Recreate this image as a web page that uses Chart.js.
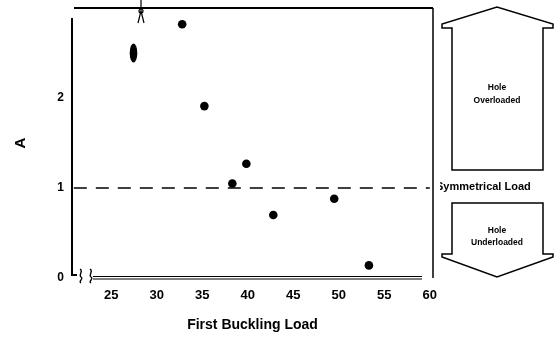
<!DOCTYPE html>
<html>
<head>
<meta charset="utf-8">
<script src="https://cdn.jsdelivr.net/npm/chart.js@4"></script>
<style>
html,body{margin:0;padding:0;background:#fff;}
#wrap{width:560px;height:342px;}
</style>
</head>
<body>
<div id="wrap"><canvas id="c" width="560" height="342"></canvas></div>
<script>
// ---- data ----
const bucklingLoad = [27.45, 32.8, 35.24, 39.85, 38.31, 42.81, 49.5, 53.31];
const aValues      = [2.50, 2.82, 1.91, 1.27, 1.05, 0.70, 0.88, 0.14];
const xTicks = [25, 30, 35, 40, 45, 50, 55, 60];
const yTicks = [0, 1, 2];
const symmetricalLevel = 1;
const xRange = [20.7, 60.35];
const yRange = [0, 3.0];

// first point is drawn as an elongated ellipse in the original
const ell = document.createElement('canvas');
ell.width = 9; ell.height = 20;
{
  const g = ell.getContext('2d');
  g.fillStyle = '#000';
  g.beginPath();
  g.ellipse(4.5, 10, 3.8, 9.5, 0, 0, Math.PI * 2);
  g.fill();
}
const pointStyles = bucklingLoad.map((_, i) => i === 0 ? ell : 'circle');

const points = bucklingLoad.map((x, i) => ({x: x, y: aValues[i]}));

const deco = {
  id: 'deco',
  afterDraw(chart) {
    const ctx = chart.ctx;
    const a = chart.chartArea;
    ctx.save();
    ctx.strokeStyle = '#000';
    ctx.fillStyle = '#000';
    ctx.lineCap = 'butt';
    // top line
    ctx.lineWidth = 2;
    ctx.beginPath(); ctx.moveTo(a.left + 2, a.top); ctx.lineTo(a.right, a.top); ctx.stroke();
    // right line
    ctx.lineWidth = 1.5;
    ctx.beginPath(); ctx.moveTo(a.right, a.top); ctx.lineTo(a.right, a.bottom); ctx.stroke();
    // left axis with bend at bottom
    ctx.lineWidth = 2;
    ctx.beginPath();
    ctx.moveTo(a.left, a.top + 10);
    ctx.lineTo(a.left, a.bottom - 3);
    ctx.lineTo(a.left + 5, a.bottom - 3);
    ctx.stroke();
    // break squiggles
    ctx.lineWidth = 1.3;
    [a.left + 9, a.left + 19].forEach(sx => {
      ctx.beginPath();
      ctx.moveTo(sx - 1, a.bottom - 9);
      ctx.bezierCurveTo(sx + 3, a.bottom - 7, sx - 3, a.bottom - 3, sx, a.bottom - 1);
      ctx.bezierCurveTo(sx + 3, a.bottom + 1, sx - 3, a.bottom + 3, sx, a.bottom + 5);
      ctx.stroke();
    });
    // bottom axis (double line)
    ctx.lineWidth = 1.2;
    ctx.beginPath(); ctx.moveTo(a.left + 21, a.bottom - 1.5); ctx.lineTo(a.right - 11, a.bottom - 1.5); ctx.stroke();
    ctx.beginPath(); ctx.moveTo(a.left + 21, a.bottom + 1); ctx.lineTo(a.right - 11, a.bottom + 1); ctx.stroke();
    // small mark on the top line
    const mx = 141;
    ctx.lineWidth = 1.2;
    ctx.beginPath();
    ctx.moveTo(mx, 0); ctx.lineTo(mx, 11);
    ctx.moveTo(mx, 11); ctx.lineTo(mx - 3, 23);
    ctx.moveTo(mx, 11); ctx.lineTo(mx + 3, 23);
    ctx.stroke();
    ctx.beginPath(); ctx.arc(mx, 11, 2, 0, Math.PI * 2); ctx.stroke();

    // up arrow
    ctx.lineWidth = 1.5;
    ctx.beginPath();
    ctx.moveTo(452, 170); ctx.lineTo(452, 28); ctx.lineTo(442, 28); ctx.lineTo(442, 24);
    ctx.lineTo(497, 7); ctx.lineTo(553, 24); ctx.lineTo(553, 28); ctx.lineTo(543, 28);
    ctx.lineTo(543, 170); ctx.closePath(); ctx.stroke();
    // down arrow
    ctx.beginPath();
    ctx.moveTo(452, 203); ctx.lineTo(543, 203); ctx.lineTo(543, 254); ctx.lineTo(553, 254);
    ctx.lineTo(553, 257); ctx.lineTo(497, 277); ctx.lineTo(442, 257); ctx.lineTo(442, 254);
    ctx.lineTo(452, 254); ctx.closePath(); ctx.stroke();

    // texts
    ctx.font = 'bold 8.5px "Liberation Sans", Arial, sans-serif';
    ctx.textAlign = 'center';
    ctx.textBaseline = 'middle';
    ctx.fillText('Hole', 497, 88);
    ctx.fillText('Overloaded', 497, 101);
    ctx.fillText('Hole', 497, 231);
    ctx.fillText('Underloaded', 497, 243);
    ctx.save();
    ctx.beginPath(); ctx.rect(440, 175, 120, 25); ctx.clip();
    ctx.font = 'bold 11px "Liberation Sans", Arial, sans-serif';
    ctx.textAlign = 'left';
    ctx.fillText('Symmetrical Load', 436, 187);
    ctx.restore();
    ctx.restore();
  }
};

new Chart(document.getElementById('c'), {
  type: 'scatter',
  data: {
    datasets: [
      {
        label: 'A',
        data: points,
        pointStyle: pointStyles,
        pointRadius: 4.3,
        pointBackgroundColor: '#000',
        pointBorderColor: '#000',
        pointBorderWidth: 0,
        showLine: false,
        clip: false
      },
      {
        type: 'line',
        label: 'Symmetrical Load',
        data: [{x: xRange[0] + 0.2, y: symmetricalLevel}, {x: 60, y: symmetricalLevel}],
        borderColor: '#000',
        borderWidth: 1.4,
        borderDash: [13, 9],
        pointRadius: 0,
        fill: false
      }
    ]
  },
  options: {
    responsive: false,
    animation: false,
    events: [],
    layout: {autoPadding: false, padding: {left: 0, right: 127, top: 8, bottom: 8}},
    plugins: {legend: {display: false}, tooltip: {enabled: false}},
    scales: {
      x: {
        type: 'linear',
        min: xRange[0], max: xRange[1],
        afterBuildTicks: s => { s.ticks = xTicks.map(v => ({value: v})); },
        afterFit: s => { s.height = 56; s.paddingLeft = 0; s.paddingRight = 0; },
        grid: {display: false, drawTicks: false},
        border: {display: false},
        ticks: {color: '#000', padding: 10, font: {family: '"Liberation Sans", Arial, sans-serif', size: 13, weight: 'bold'}, maxRotation: 0},
        title: {display: true, text: 'First Buckling Load', color: '#000', padding: {top: 0, bottom: 0},
                font: {family: '"Liberation Sans", Arial, sans-serif', size: 14, weight: 'bold'}}
      },
      y: {
        type: 'linear',
        min: yRange[0], max: yRange[1],
        afterBuildTicks: s => { s.ticks = yTicks.map(v => ({value: v})); },
        afterFit: s => { s.width = 72; s.paddingTop = 0; s.paddingBottom = 0; },
        grid: {display: false, drawTicks: false},
        border: {display: false},
        ticks: {color: '#000', padding: 8, font: {family: '"Liberation Sans", Arial, sans-serif', size: 12, weight: 'bold'}},
        title: {display: true, text: 'A', color: '#000', padding: {top: 12, bottom: 0},
                font: {family: '"Liberation Sans", Arial, sans-serif', size: 15, weight: 'bold'}}
      }
    }
  },
  plugins: [deco]
});
</script>
</body>
</html>
